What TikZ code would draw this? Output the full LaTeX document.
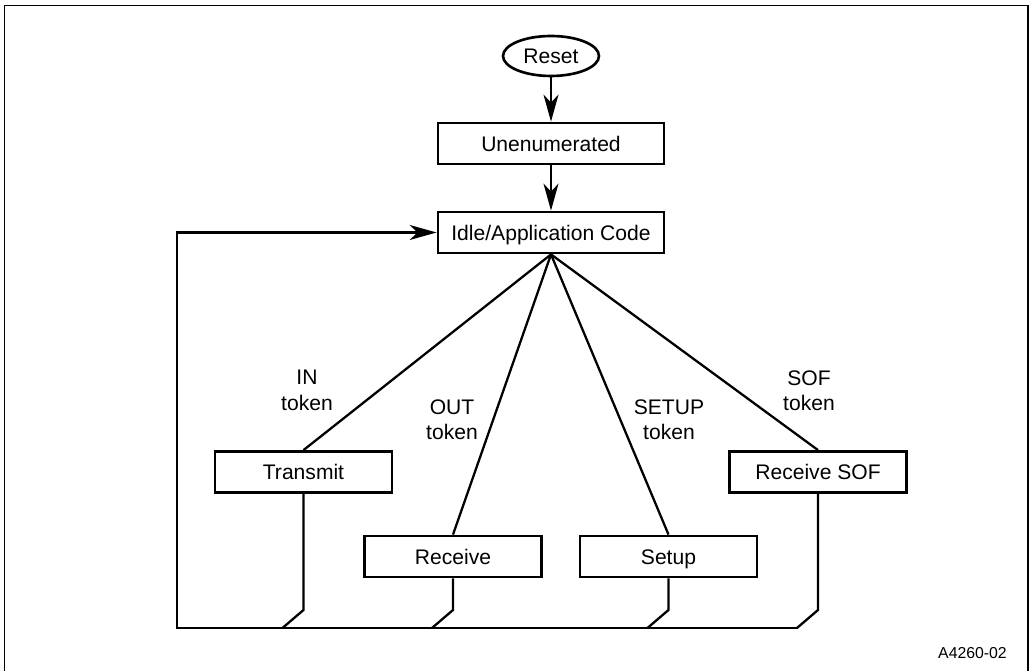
\documentclass[tikz,border=0pt]{standalone}
\usepackage{fontspec}
\setmainfont{Liberation Sans}
\usetikzlibrary{arrows.meta, shapes.geometric}

\begin{document}
\begin{tikzpicture}[
    x=0.02cm, y=-0.02cm,
    every node/.style={font=\fontsize{12}{14.5}\selectfont},
    >={Stealth[length=5.4mm, width=3mm, inset=1.6mm]},
    state/.style={draw, line width=1.6pt, minimum width=3.54cm, minimum height=0.82cm,
                  inner sep=0pt, text height=8.6pt, text depth=0pt},
    widestate/.style={state, minimum width=4.52cm},
    flow/.style={line width=1.3pt},
    tokenlabel/.style={align=center},
]
\useasboundingbox (0,0) rectangle (1032,671);

% === Outer frame (open at the bottom) ===
\draw[line width=0.9pt] (4.7,671) -- (4.7,5.7) -- (1028,5.7) -- (1028,671);

% === States ===
\node[ellipse, draw, line width=1.5pt, minimum width=1.92cm, minimum height=0.8cm,
      inner sep=0pt, text height=8.6pt, text depth=0pt]
    (reset) at (551,56) {Reset};
\node[widestate] (unenum)   at (551,143.5) {Unenumerated};
\node[widestate] (idle)     at (551,232.5) {Idle/Application Code};
\node[state]     (transmit) at (303.5,472) {Transmit};
\node[state]     (receive)  at (453,556.5) {Receive};
\node[state]     (setup)    at (668.5,556.5) {Setup};
\node[state]     (recsof)   at (818,472) {Receive SOF};

% === Startup path ===
\draw[flow, ->] (reset) -- (unenum);
\draw[flow, ->] (unenum) -- (idle);

% === Token branches ===
\foreach \st in {transmit, receive, setup, recsof} {
    \draw[flow] (idle.south) -- (\st.north);
}
\node[tokenlabel] (lblin)    at (307,390.5) {IN\\token};
\node[tokenlabel] (lblout)   at (452,420)   {OUT\\token};
\node[tokenlabel] (lblsetup) at (669,420)   {SETUP\\token};
\node[tokenlabel] (lblsof)   at (809,390.5) {SOF\\token};

% === Return path to idle ===
\foreach \st in {transmit, receive, setup, recsof} {
    \draw[flow] (\st.south) -- (\st.south |- 0,610) -- ++(-21,18);
}
\coordinate (loopbl) at (177,628);
\draw[flow, ->] (798,628) -- (loopbl) -- (loopbl |- idle.west) -- (idle.west);

% === Figure id ===
\node[anchor=east, font=\fontsize{9}{10}\selectfont] (figid) at (1013,653) {A4260-02};

\end{tikzpicture}
\end{document}
